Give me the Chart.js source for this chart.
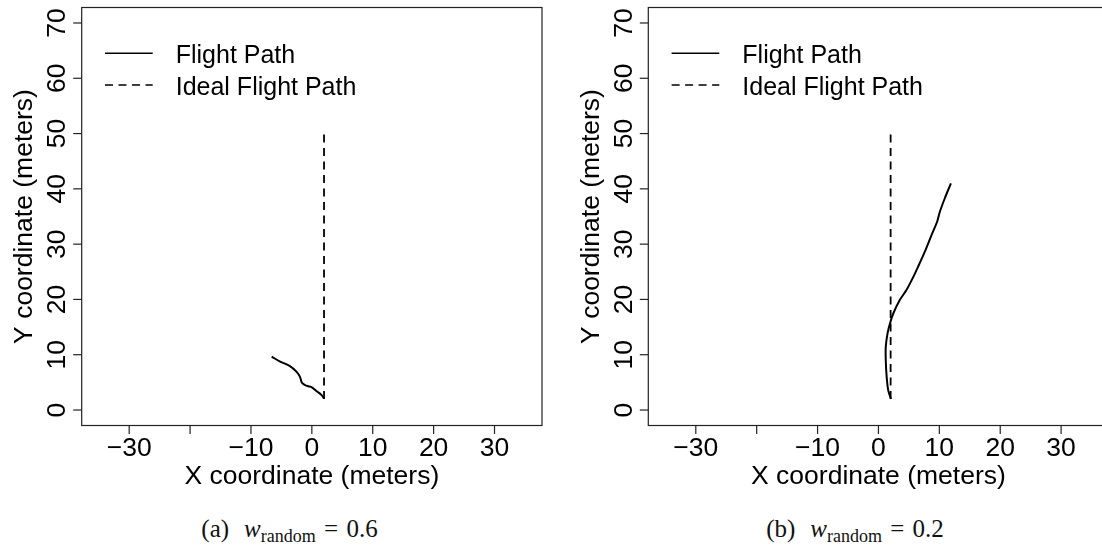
<!DOCTYPE html>
<html>
<head>
<meta charset="utf-8">
<script src="https://cdn.jsdelivr.net/npm/chart.js@4.4.0/dist/chart.umd.min.js"></script>
<style>
  html, body { margin: 0; padding: 0; background: #fff; width: 1102px; height: 556px; overflow: hidden; }
  .panel { position: absolute; top: 0; }
  .cap {
    position: absolute; top: 516px; white-space: nowrap; transform: translateX(-50%);
    font-family: 'Liberation Serif', 'Times New Roman', serif; font-size: 25px; line-height: 25px; color: #111;
  }
  .cap .tag { margin-right: 0.6em; }
  .cap i { font-style: italic; }
  .cap sub { font-size: 18px; vertical-align: -5px; line-height: 0; }
  .cap .eq { margin: 0 0.33em; }
</style>
</head>
<body>
<div class="panel" style="left:0;width:551px;height:500px"><canvas id="chartA" width="551" height="500"></canvas></div>
<div class="panel" style="left:551px;width:570px;height:500px"><canvas id="chartB" width="570" height="500"></canvas></div>
<div class="cap" style="left:289.5px"><span class="tag">(a)</span><i>w</i><sub>random</sub><span class="eq">=</span>0.6</div>
<div class="cap" style="left:855px"><span class="tag">(b)</span><i>w</i><sub>random</sub><span class="eq">=</span>0.2</div>
<script>
// Axis ticks and labels (the -20 label is left blank, as the axis drops it)
const xTicks = [-30, -20, -10, 0, 10, 20, 30];
const xTickLabels = ['\u221230', '', '\u221210', '0', '10', '20', '30'];
const yTicks = [0, 10, 20, 30, 40, 50, 60, 70];
const yTickLabels = ['0', '10', '20', '30', '40', '50', '60', '70'];
const xTitle = 'X coordinate (meters)';
const yTitle = 'Y coordinate (meters)';
const legendLabels = ['Flight Path', 'Ideal Flight Path'];

// Ideal straight path (same in both runs)
const idealX = [2, 2];
const idealY = [2, 50];

// Flight path, w_random = 0.6
const pathAX = [2.0, 1.6, 0.8, 0.0, -0.6, -1.1, -1.5, -1.7, -1.95, -2.5, -3.6, -5.2, -6.6];
const pathAY = [2.1, 2.7, 3.4, 4.1, 4.3, 4.5, 4.8, 5.1, 6.0, 6.9, 7.95, 8.75, 9.65];

// Flight path, w_random = 0.2
const pathBX = [2.05, 1.6, 1.35, 1.2, 1.2, 1.5, 1.9, 2.45, 3.5, 4.6, 5.6, 6.5, 7.6, 8.7, 9.65, 10.1, 10.9, 11.9];
const pathBY = [2.0, 3.6, 6.0, 9.0, 11.4, 13.9, 15.7, 17.5, 19.9, 21.7, 23.8, 25.9, 28.6, 31.6, 34.1, 35.9, 38.3, 41.0];

const X_RANGE = [-37.8, 37.8];
const Y_RANGE = [-2.8, 72.8];
const SANS = "'Liberation Sans', Arial, sans-serif";
const DASH = [8, 5.5];

const toPoints = (xs, ys) => xs.map((x, i) => ({ x, y: ys[i] }));

// Base-graphics style frame: box, outward ticks, rotated y labels, legend
const framePlugin = {
  id: 'frame',
  afterDraw(chart) {
    const { ctx, chartArea: a, scales } = chart;
    const xs = scales.x, ys = scales.y;
    ctx.save();
    ctx.strokeStyle = '#222';
    ctx.fillStyle = '#000';
    ctx.lineWidth = 1.2;
    ctx.strokeRect(a.left, a.top, a.right - a.left, a.bottom - a.top);

    // x axis
    ctx.font = `26.5px ${SANS}`;
    ctx.textAlign = 'center';
    ctx.textBaseline = 'alphabetic';
    xTicks.forEach((v, i) => {
      const px = xs.getPixelForValue(v);
      ctx.beginPath(); ctx.moveTo(px, a.bottom); ctx.lineTo(px, a.bottom + 8.5); ctx.stroke();
      if (xTickLabels[i]) ctx.fillText(xTickLabels[i], px, 456);
    });
    ctx.fillText(xTitle, (a.left + a.right) / 2, 483.5);

    // y axis
    yTicks.forEach((v, i) => {
      const py = ys.getPixelForValue(v);
      ctx.beginPath(); ctx.moveTo(a.left, py); ctx.lineTo(a.left - 8.5, py); ctx.stroke();
      ctx.save();
      ctx.translate(a.left - 16.7, py);
      ctx.rotate(-Math.PI / 2);
      ctx.fillText(yTickLabels[i], 0, 0);
      ctx.restore();
    });
    ctx.save();
    ctx.translate(a.left - 49.7, (a.top + a.bottom) / 2);
    ctx.rotate(-Math.PI / 2);
    ctx.fillText(yTitle, 0, 0);
    ctx.restore();

    // legend
    ctx.font = `25px ${SANS}`;
    ctx.textAlign = 'left';
    ctx.strokeStyle = '#000';
    ctx.lineWidth = 1.6;
    const rows = [53.3, 85];
    const baselines = [63, 94.5];
    rows.forEach((ry, i) => {
      ctx.setLineDash(i === 0 ? [] : DASH);
      ctx.beginPath(); ctx.moveTo(a.left + 23.3, ry); ctx.lineTo(a.left + 71, ry); ctx.stroke();
      ctx.setLineDash([]);
      ctx.fillText(legendLabels[i], a.left + 94, baselines[i]);
    });
    ctx.restore();
  }
};

function makeChart(id, px, py, padding) {
  return new Chart(document.getElementById(id), {
    type: 'scatter',
    data: {
      datasets: [
        {
          label: legendLabels[0], data: toPoints(px, py), showLine: true,
          borderColor: '#000', borderWidth: 2, pointRadius: 0, tension: 0.3, fill: false
        },
        {
          label: legendLabels[1], data: toPoints(idealX, idealY), showLine: true,
          borderColor: '#000', borderWidth: 1.8, borderDash: DASH, pointRadius: 0, fill: false
        }
      ]
    },
    options: {
      responsive: false,
      animation: false,
      events: [],
      layout: { padding },
      scales: {
        x: { type: 'linear', min: X_RANGE[0], max: X_RANGE[1], display: false },
        y: { type: 'linear', min: Y_RANGE[0], max: Y_RANGE[1], display: false }
      },
      plugins: { legend: { display: false }, tooltip: { enabled: false } }
    },
    plugins: [framePlugin]
  });
}

makeChart('chartA', pathAX, pathAY, { left: 81.7, top: 7.5, right: 9, bottom: 74.5 });
makeChart('chartB', pathBX, pathBY, { left: 97.3, top: 7.5, right: 12.4, bottom: 74.5 });
</script>
</body>
</html>
